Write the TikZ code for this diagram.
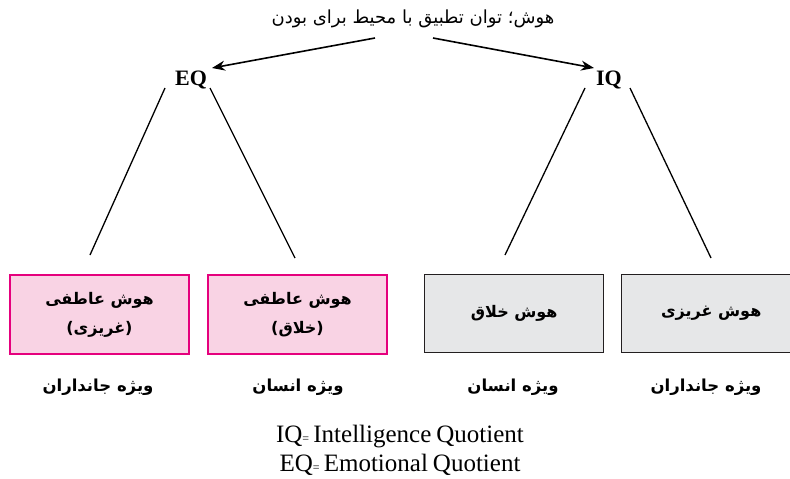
\documentclass[tikz,border=0pt]{standalone}
\usepackage{fontspec}
\setmainfont{Liberation Serif}
\newfontfamily\fa[Script=Arabic]{DejaVu Sans}
\TeXXeTstate=1
\usetikzlibrary{arrows.meta}
\definecolor{pinkfill}{HTML}{F9D3E4}
\definecolor{pinkline}{HTML}{E5007D}
\definecolor{grayfill}{HTML}{E6E7E8}
\definecolor{grayline}{HTML}{231F20}
\newcommand{\rtl}[1]{\beginR #1\endR}
\newcommand{\legendfont}{\fontsize{25}{27}\selectfont\spaceskip=0.2em plus 0.05em\relax}
\newcommand{\smalleq}{{\fontsize{12}{12}\selectfont=}}
\begin{document}
\begin{tikzpicture}[x=1pt,y=-1pt,
  pinkbox/.style={draw=pinkline, fill=pinkfill, line width=2pt, minimum width=179pt, minimum height=79pt, anchor=north west, inner sep=0pt, align=center, font=\fa\bfseries\fontsize{16}{29}\selectfont},
  graybox/.style={draw=grayline, fill=grayfill, line width=1.4pt, minimum width=179pt, minimum height=78pt, anchor=north west, inner sep=0pt, align=center, font=\fa\bfseries\fontsize{16}{29}\selectfont},
  qlabel/.style={font=\bfseries\fontsize{22}{24}\selectfont, inner sep=0pt},
  sublabel/.style={font=\fa\bfseries\fontsize{16.5}{18}\selectfont, inner sep=0pt},
  legend/.style={inner sep=0pt, font=\legendfont},
  conn/.style={line width=1.3pt, black},
  arr/.style={line width=1.6pt, black, -{Stealth[length=13pt,width=10pt]}}
]
\useasboundingbox (0,0) rectangle (790,479);
% title
\node[inner sep=0pt, font=\fa\fontsize{18}{20}\selectfont] (title) at (413,19) {\rtl{هوش؛ توان تطبیق با محیط برای بودن}};
\coordinate (ta) at (375,38);
\coordinate (tb) at (433,38);
\coordinate (ea) at (212,68);
\coordinate (ia) at (594,68);
\draw[arr] (ta) -- (ea);
\draw[arr] (tb) -- (ia);
% EQ / IQ
\node[qlabel] (eq) at (191,80) {EQ};
\node[qlabel] (iq) at (609,80) {IQ};
% boxes
\node[pinkbox] (b1) at (9,274) {\rtl{هوش عاطفی}\\\rtl{(غریزی)}};
\node[pinkbox] (b2) at (207,274) {\rtl{هوش عاطفی}\\\rtl{(خلاق)}};
\node[graybox] (b3) at (424,274) {\rtl{هوش خلاق}};
\node[graybox] (b4) at (621,274) {\rtl{هوش غریزی}};
% connectors
\coordinate (e1) at (165,88);
\coordinate (e2) at (90,255);
\coordinate (e3) at (210,88);
\coordinate (e4) at (295,258);
\coordinate (i1) at (585,88);
\coordinate (i2) at (505,255);
\coordinate (i3) at (630,88);
\coordinate (i4) at (711,258);
\draw[conn] (e1) -- (e2);
\draw[conn] (e3) -- (e4);
\draw[conn] (i1) -- (i2);
\draw[conn] (i3) -- (i4);
% sub labels
\node[sublabel] (s1) at (98,387) {\rtl{ویژه جانداران}};
\node[sublabel] (s2) at (298,387) {\rtl{ویژه انسان}};
\node[sublabel] (s3) at (513,387) {\rtl{ویژه انسان}};
\node[sublabel] (s4) at (706,387) {\rtl{ویژه جانداران}};
% legend
\node[legend] (l1) at (400,437) {IQ\smalleq\,Intelligence Quotient};
\node[legend] (l2) at (400,465) {EQ\smalleq\,Emotional Quotient};
\end{tikzpicture}
\end{document}
